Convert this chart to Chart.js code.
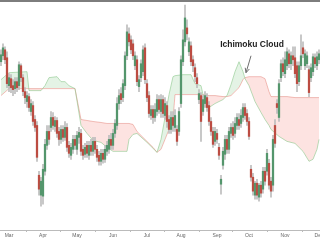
<!DOCTYPE html>
<html><head><meta charset="utf-8">
<script src="https://cdn.jsdelivr.net/npm/chart.js@4.4.1/dist/chart.umd.min.js"></script>
<style>
html,body{margin:0;padding:0;background:#fff;overflow:hidden;width:320px;height:240px;}
#top{height:2px;background:#7d7d7d;}
#wrap{width:340px;height:238px;}
</style></head><body>
<div id="top"></div>
<div id="wrap"><canvas id="c" width="340" height="238"></canvas></div>
<script>
// Month ticks (trading-session index) and labels
const monthTicks = [4, 21, 38, 56, 73, 90, 108, 124, 142, 159];
const monthLabels = ['Mar','Apr','May','Jun','Jul','Aug','Sep','Oct','Nov','Dec'];

// Daily candles
const open = [89,92,95,91,77,80.5,77,75.5,79,77, 87,81,74,69,71.5,64,67,60,57,32, 22,21.5,34,47,54,56,61,56.5,59.5,54, 50,55,51,56,47,42,45,50,45,51, 53,45,42.5,47,42,47,44,49,45,42, 39,43,40,44,45,50,47,53,57,68, 73,71,77,92,103,100,98,87,90,76.5, 81,84,96,78,72,62,65,61,64,70, 64,70,62,67,60,55,61,56,55,54, 68,89,99,106,94,97,90,86,81,70, 72,64,68,71,67,59,54,49,53,46, 27.5,37,42.5,50,45,53,56,53,57,60, 58,61,66,63,59,35,31,22,28,21, 27,25,34,34,38,29,27,57,68,61, 81,88,83,87,93,88,92,91,87,79, 87,96,87,88,85,81,84,91,87,90];
const high = [95,98,96.5,94,83,82.5,80,81,81,89, 88,82.5,76,74,73,70,69,62,59,34, 31,37.5,50,57,57,64,63.5,61.5,61,56, 57,57,59,58,49,48,52,52,54,56, 55,47,48,49,49,50,51,51,47,44, 45,45,47,49,52,53,55,60,71,75, 76,80,94,107.5,106,102,100,94,92,82, 90,97,98,80,74,67,67,68,72.5,72, 72.5,72,71,69,62,64,64,65,57,66, 92,105,117.5,110,101,99,92,88,83,75, 73.5,72,74,73,69,61,56,56,55,48, 32,46,52,52,56,58,59,61,63,63, 65,68,68,65,61,37,33,29,30,28, 29,36,36,45,40,31,52,60,70,80, 90,91,94,96,95,94,96.5,96.5,89,89, 102.5,99,95,94,87,88,93,93,94,95];
const low = [87,90,88,76,74,73.5,72,73,74,75, 79,72,68,66,64,62,57,54,39,22, 16.5,17.5,32,45,47.5,54,55,54,51,47, 48,49,49.5,44,41,40,43,45,42.5,48, 42,40,41,41,40,42,42,43,39,37, 37,38,38.5,42,43,45,45,51,55,65, 68,69,75,90,97,93,90,85,77,74, 79,82,78,69,61,60,58,59,62,63, 61,61,60,56,53,53,54,54,47,52, 66,87,97,100,92,87,84,79,76,68, 49,62,66,64,57,52,46,47,48,40, 22.5,35,40,43,43,51,50,51,55,55, 56,59,60,57,50,29,22,20,20,19, 21,23,27,32,25,21,24,46,63,59, 79,82,81,85,86,85,87,81,74,77, 85,91,85,86,71.5,79,82,86,85,88];
const close = [92.5,96,90,78,81,76,75,79,76,87.5, 81,74,71,72,66,68,59,56,41,25, 29,35,47.5,54,50,61,57,59.5,53,50, 55,51,56,46,43,46,50,47,52,53.5, 44,42,46,43,47,44,49,45,41,39, 43,40,45,47,50,47,53,58,68,72, 70,78,92,104,99,95,92,92,79,80, 88,95,80,71,63,65,61,65,70,65, 70,63,68,59,55,61,57,62,49,64, 90,100,111,103,99,89,87,81.5,78,73, 59,70,72,66,59,54,47.5,54,50,42, 30,44,50,45,54,56,52,58,61,57, 62,66,62,59,51.5,31,24,28,22,27, 23,34,29,43,27,24,50,48,66,78, 88,84,90,94,88,92,90,83,78,87, 92,93,93,92,73.5,86,91.5,88,91.5,93];

// Ichimoku cloud spans (session index, Senkou A, Senkou B)
const cloudX = [0,4,13,14,20,22,24,28,30,32, 34,37,40,43,46,50,53,56,63,64, 66,68,73,76,78,80,82,84,86,87, 91,95,97,100,101,104,107,111,113,115, 117,119,121,122,124,127,130,132,134,135, 139,143,147,151,154,156,158,159];
const spanA = [80,83.5,84,74.5,74.5,77,81,81.5,79,79, 77,75.5,57,53,49.5,48.5,46,44,44,50, 52.5,53,48.5,45.5,43.5,50,61,72.5,81.5,82, 82.5,82.5,78,77,72.5,66,68,70,72,77.5, 84,89,84,80.5,77,69,63.5,60,57,55, 51.5,49,48,44,39,40,45,50];
const spanB = [72,75.5,75.5,75.5,75.5,75.5,75.5,75.5,75.5,75.5, 75.5,75.5,60,59.5,59,58.5,58,58,58,58, 57.5,54,49,46,43.5,45,50,55,60,72.5, 72.5,72.5,72.5,72.5,72.5,72,72,71.5,71.5,72, 74,76,80,81,81.5,81.5,81.5,80.5,74,71.5, 71.5,71.5,71,71,71,71,71,71];

// Annotation (data coordinates)
const noteText = 'Ichimoku Cloud';
const notePos = [125.5, 97.75];
const arrowFrom = [125, 92];
const arrowTo = [122.5, 83.5];

const upColor = 'rgb(84,150,108)';
const downColor = 'rgb(188,76,66)';

const annot = {
  id: 'annot',
  afterDraw(chart) {
    const {ctx, scales: {x, y}} = chart;
    ctx.save();
    ctx.font = 'bold 8.5px "Liberation Sans", Arial, sans-serif';
    ctx.fillStyle = '#222';
    ctx.textAlign = 'center';
    ctx.textBaseline = 'middle';
    ctx.fillText(noteText, x.getPixelForValue(notePos[0]), y.getPixelForValue(notePos[1]));
    const x0 = x.getPixelForValue(arrowFrom[0]), y0 = y.getPixelForValue(arrowFrom[1]);
    const x1 = x.getPixelForValue(arrowTo[0]), y1 = y.getPixelForValue(arrowTo[1]);
    ctx.strokeStyle = '#6e6e6e';
    ctx.lineWidth = 1;
    ctx.beginPath(); ctx.moveTo(x0, y0); ctx.lineTo(x1, y1); ctx.stroke();
    const ang = Math.atan2(y1 - y0, x1 - x0);
    const L = 5;
    ctx.beginPath();
    ctx.moveTo(x1 - L * Math.cos(ang - 0.45), y1 - L * Math.sin(ang - 0.45));
    ctx.lineTo(x1, y1);
    ctx.lineTo(x1 - L * Math.cos(ang + 0.45), y1 - L * Math.sin(ang + 0.45));
    ctx.stroke();
    ctx.restore();
  }
};

new Chart(document.getElementById('c'), {
  data: {
    datasets: [
      {type: 'line', label: 'Senkou A', data: cloudX.map((v, i) => ({x: v, y: spanA[i]})),
       borderColor: 'rgba(140,200,140,0.6)', borderWidth: 1, pointRadius: 0, tension: 0,
       fill: {target: '+1', above: 'rgba(76,175,80,0.15)', below: 'rgba(244,67,54,0.15)'}, order: 3},
      {type: 'line', label: 'Senkou B', data: cloudX.map((v, i) => ({x: v, y: spanB[i]})),
       borderColor: 'rgba(240,150,145,0.6)', borderWidth: 1, pointRadius: 0, tension: 0, fill: false, order: 4},
      {type: 'bar', label: 'Wick', data: low.map((l, i) => ({x: i, y: [l, high[i]]})),
       backgroundColor: '#bdbdbd', barThickness: 1, grouped: false, order: 2},
      {type: 'bar', label: 'Body', data: open.map((o, i) => ({x: i, y: [o, close[i]]})),
       backgroundColor: open.map((o, i) => close[i] >= o ? upColor : downColor),
       barThickness: 1.6, minBarLength: 1, grouped: false, order: 1}
    ]
  },
  options: {
    responsive: false, animation: false, events: [],
    layout: {padding: 0},
    plugins: {legend: {display: false}, tooltip: {enabled: false}},
    scales: {
      x: {type: 'linear', min: -0.5, max: 169.5, offset: false,
          afterBuildTicks: s => { s.ticks = monthTicks.map(v => ({value: v})); },
          ticks: {autoSkip: false, maxRotation: 0, padding: 1, color: '#666',
                  font: {size: 5, family: '"Liberation Sans", Arial, sans-serif'},
                  callback: v => { const k = monthTicks.indexOf(v); return k >= 0 ? monthLabels[k] : ''; }},
          grid: {drawOnChartArea: false, tickLength: 2, color: '#bbb'},
          border: {color: '#bbb'}},
      y: {display: false, min: 4.5, max: 119}
    }
  },
  plugins: [annot]
});
</script></body></html>
